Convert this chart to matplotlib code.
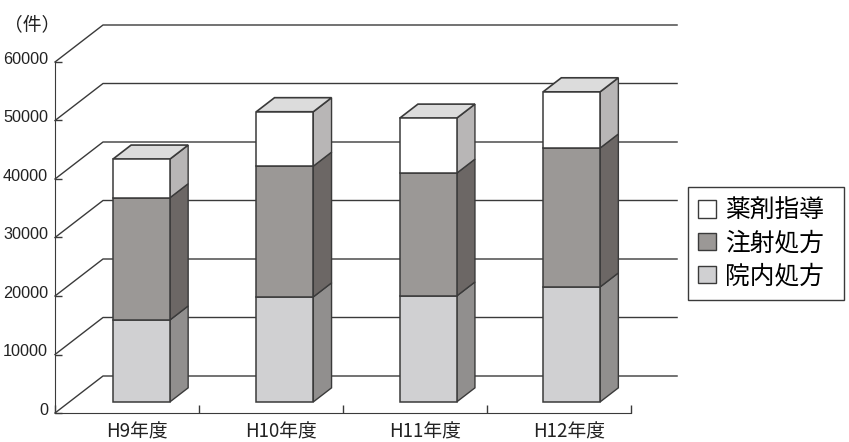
import numpy as np
import matplotlib
matplotlib.use('Agg')
import matplotlib.pyplot as plt
from matplotlib.patches import Patch, Polygon
from matplotlib.transforms import ScaledTranslation

plt.rcParams['font.family'] = ['Noto Sans CJK JP', 'DejaVu Sans']

categories = ['H9年度', 'H10年度', 'H11年度', 'H12年度']
innai = [14000, 17950, 18100, 19650]    # 院内処方
chusha = [20900, 22350, 21000, 23750]   # 注射処方
yakuzai = [6600, 9300, 9400, 9600]      # 薬剤指導
y_ticks = [0, 10000, 20000, 30000, 40000, 50000, 60000]

series_names = ['院内処方', '注射処方', '薬剤指導']
front_colors = ['#d0d0d2', '#9b9896', '#ffffff']
side_colors = ['#918f8e', '#6c6765', '#b8b6b6']
top_color = '#dcdcdc'
line_color = '#3a3a3a'

# 奥行き（データ座標）
depth_x = 48 / 144
depth_y = 37 / 58.5 * 10000
bar_start = 0.30   # 棒の手前の面の奥行き位置
bar_depth = 0.38
bar_width = 0.396

fig = plt.figure(figsize=(8.49, 4.42), dpi=100)
ax = fig.add_axes([0, 0, 1, 1])
ax.set_xlim(-55 / 144, (849 - 55) / 144)
ax.set_ylim((413 - 442) / 58.5 * 10000, 413 / 58.5 * 10000)

# 奥の目盛線と斜めの線
for v in y_ticks:
    ax.plot([0, depth_x, 4.32], [v, v + depth_y, v + depth_y],
            color=line_color, lw=1, zorder=1)

# 積み上げ棒
x = np.arange(len(categories)) * 143.4 / 144 + 0.5
off_x = bar_start * depth_x
off_y = bar_start * depth_y
dx = bar_depth * depth_x
dy = bar_depth * depth_y
bottom = np.full(len(categories), off_y)
for values, front, side in zip([innai, chusha, yakuzai], front_colors, side_colors):
    values = np.array(values)
    ax.bar(x + off_x, values, bar_width, bottom=bottom, color=front,
           edgecolor=line_color, linewidth=1.1, zorder=3)
    for xc, b, h in zip(x + off_x + bar_width / 2, bottom, values):
        ax.add_patch(Polygon([(xc, b), (xc + dx, b + dy), (xc + dx, b + h + dy), (xc, b + h)],
                             facecolor=side, edgecolor=line_color, lw=1.0, zorder=2.5))
    bottom = bottom + values

for xc, t in zip(x + off_x, bottom):
    l, r = xc - bar_width / 2, xc + bar_width / 2
    ax.add_patch(Polygon([(l, t), (r, t), (r + dx, t + dy), (l + dx, t + dy)],
                         facecolor=top_color, edgecolor=line_color, lw=1.2, zorder=2.5))

# 軸
for s in ['top', 'right']:
    ax.spines[s].set_visible(False)
ax.spines['left'].set_position(('data', 0))
ax.spines['left'].set_bounds(0, 60000)
ax.spines['bottom'].set_position(('data', 0))
ax.spines['bottom'].set_bounds(0, 4)
ax.spines['left'].set_color(line_color)
ax.spines['bottom'].set_color(line_color)

ax.set_yticks(y_ticks)
ax.set_yticklabels([str(v) for v in y_ticks], fontsize=11.7, color='#222222',
                   family=['Liberation Sans'])
ax.tick_params(axis='y', direction='in', length=5, width=1, color=line_color, pad=5)
# 目盛ラベルは目盛より少し上にある
for lab in ax.get_yticklabels():
    lab.set_transform(lab.get_transform() + ScaledTranslation(0, 0.04, fig.dpi_scale_trans))

ax.set_xticks(range(5))
ax.set_xticklabels([])
ax.tick_params(axis='x', direction='in', length=6, width=1, color=line_color)
ax.set_xticks(np.arange(len(categories)) + 0.5 + 10 / 144, minor=True)
ax.set_xticklabels(categories, minor=True, fontsize=13.5, color='#222222')
ax.tick_params(axis='x', which='minor', length=0, pad=6)

ax.text(32 / 849, 1 - 25 / 442, '（件）', transform=ax.transAxes, fontsize=13.5,
        color='#222222', ha='center', va='center')

handles = [Patch(facecolor=c, edgecolor=line_color, lw=1) for c in front_colors[::-1]]
ax.legend(handles, series_names[::-1], loc='upper left',
          bbox_to_anchor=(688 / 849, 1 - 187 / 442, 156 / 849, 0.0), bbox_transform=ax.transAxes,
          mode='expand', borderaxespad=0, fontsize=17.8, fancybox=False, framealpha=1,
          edgecolor=line_color, handlelength=0.72, handleheight=0.72,
          handletextpad=0.35, labelspacing=0.28, borderpad=0.42)

fig.savefig('out.png', dpi=100)
